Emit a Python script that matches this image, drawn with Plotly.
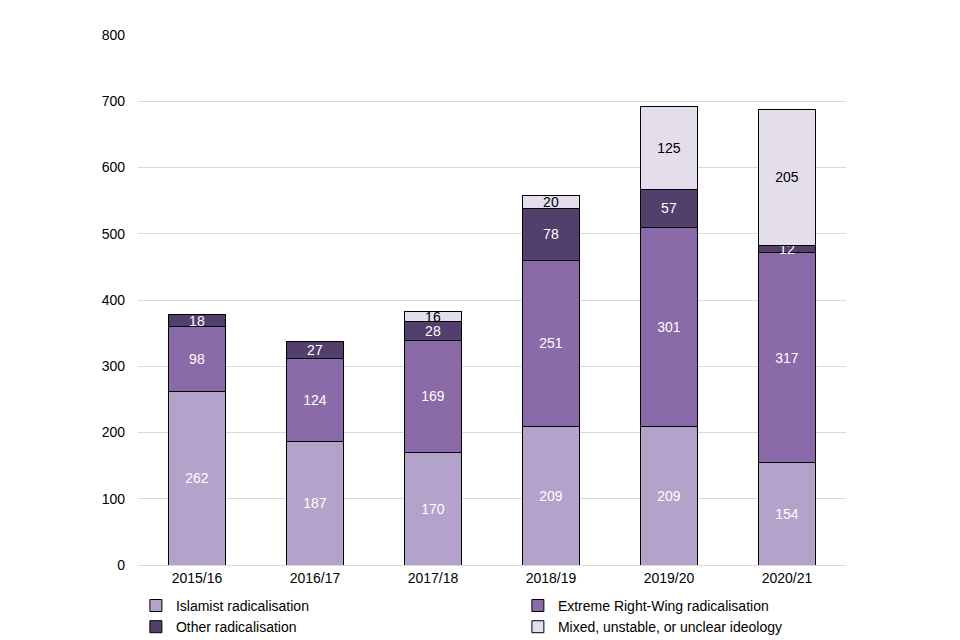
import plotly.graph_objects as go

years = ["2015/16", "2016/17", "2017/18", "2018/19", "2019/20", "2020/21"]
islamist = [262, 187, 170, 209, 209, 154]
erw = [98, 124, 169, 251, 301, 317]
other = [18, 27, 28, 78, 57, 12]
mixed = [0, 0, 16, 20, 125, 205]

series = [
    ("Islamist radicalisation", islamist, "#b3a2c9", "white"),
    ("Extreme Right-Wing radicalisation", erw, "#8a6aa8", "white"),
    ("Other radicalisation", other, "#533f6c", "white"),
    ("Mixed, unstable, or unclear ideology", mixed, "#e4ddec", "black"),
]

fig = go.Figure()
for name, vals, color, tcol in series:
    fig.add_trace(go.Bar(
        name=name, x=years, y=vals,
        marker=dict(color=color, line=dict(color="black", width=1)),
        text=[str(v) if v else "" for v in vals],
        textposition="inside", insidetextanchor="middle", textangle=0,
        textfont=dict(color=tcol, size=14, family="Liberation Sans, Arial"),
        constraintext="none",
        hoverinfo="x+y+name",
    ))

fig.update_layout(
    barmode="stack",
    bargap=0.51,
    width=960, height=640,
    margin=dict(l=130, r=122, t=27, b=83, autoexpand=False),
    paper_bgcolor="white", plot_bgcolor="white",
    font=dict(family="Liberation Sans, Arial", size=14, color="#000"),
    uniformtext=dict(minsize=14, mode="show"),
    xaxis=dict(showgrid=False, showline=True, linecolor="#d9d9d9", ticks="", tickfont=dict(size=14)),
    yaxis=dict(range=[0, 800], dtick=100, showgrid=True, gridcolor="#d9d9d9",
               zeroline=False, showline=False, ticks="", tickfont=dict(size=14), ticklabelstandoff=12),
    legend=dict(orientation="h", x=-0.003, y=-0.047, xanchor="left", yanchor="top",
                entrywidth=337, entrywidthmode="pixels", traceorder="normal",
                font=dict(size=14), tracegroupgap=0, itemwidth=30),
    showlegend=True,
)

fig.write_html("out.html")
